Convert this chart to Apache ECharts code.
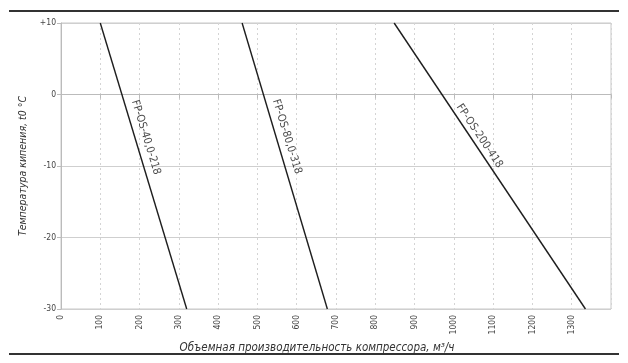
<!DOCTYPE html>
<html><head><meta charset="utf-8">
<script src="https://cdn.jsdelivr.net/npm/echarts@6/dist/echarts.min.js"></script>
<style>html,body{margin:0;padding:0;background:#fff}#c{width:628px;height:363px}</style>
</head><body><div id="c"></div>
<script>
// Data
const seriesNames = ['FP-OS-40,0-218', 'FP-OS-80,0-318', 'FP-OS-200-418'];
const line1 = [[100, 10], [320, -30]];
const line2 = [[461, 10], [678, -30]];
const line3 = [[848, 10], [1335, -30]];
// label anchor points (value coords) and angles
const labelAnchors = [[216, -6.0], [575, -5.9], [1065, -5.8]];
const labelAngles = [-73, -73, -56];
const xTicks = [0,100,200,300,400,500,600,700,800,900,1000,1100,1200,1300];
const yTicks = [10, 0, -10, -20, -30];

const chart = echarts.init(document.getElementById('c'), null, {renderer: 'canvas'});
const font = 'DejaVu Sans Condensed, DejaVu Sans';
const lineSeries = [line1, line2, line3].map((d, i) => ({
  type: 'line', name: seriesNames[i], data: d, symbol: 'none',
  lineStyle: {color: '#1e1e1e', width: 1.4}, z: 5, silent: true
}));
const labelSeries = {
  type: 'scatter', symbolSize: 0, silent: true, z: 6,
  data: labelAnchors.map((p, i) => ({
    value: p,
    label: {show: true, formatter: seriesNames[i], rotate: labelAngles[i],
      position: [0, 0], align: 'center', verticalAlign: 'middle',
      fontFamily: font, fontSize: 11, color: '#1a1a1a'}
  }))
};
chart.setOption({
  animation: false,
  grid: {left: 61, right: 17, top: 23, bottom: 54, show: true, borderColor: '#c8c8c8', borderWidth: 1},
  xAxis: {
    type: 'value', min: 0, max: 1400, interval: 100,
    name: 'Объемная производительность компрессора, м³/ч',
    nameLocation: 'middle', nameGap: 26,
    nameTextStyle: {fontFamily: font, fontStyle: 'italic', fontSize: 11.5, color: '#333', padding: [0, 38, 0, 0]},
    axisLine: {lineStyle: {color: '#bbb'}},
    axisTick: {show: true, length: 4, lineStyle: {color: '#bbb'}},
    axisLabel: {rotate: 90, fontFamily: font, fontSize: 8.5, color: '#444', margin: 6,
      formatter: v => xTicks.includes(v) ? String(v) : ''},
    splitLine: {show: true, lineStyle: {color: '#d4d4d4', type: [2, 3], width: 1}}
  },
  yAxis: {
    type: 'value', min: -30, max: 10, interval: 10,
    name: 'Температура кипения, t0 °С',
    nameLocation: 'middle', nameGap: 30, nameRotate: 90,
    nameTextStyle: {fontFamily: font, fontStyle: 'italic', fontSize: 10.5, color: '#333'},
    axisLine: {show: true, lineStyle: {color: '#bbb'}},
    axisTick: {show: true, length: 4, lineStyle: {color: '#bbb'}},
    axisLabel: {fontFamily: font, fontSize: 8.5, color: '#444', margin: 5,
      formatter: v => yTicks.includes(v) ? (v > 0 ? '+' + v : String(v)) : ''},
    splitLine: {show: true, lineStyle: {color: '#cfcfcf', width: 1}}
  },
  graphic: [
    {type: 'line', shape: {x1: 9, y1: 11, x2: 619, y2: 11}, style: {stroke: '#333', lineWidth: 2}},
    {type: 'line', shape: {x1: 9, y1: 354, x2: 619, y2: 354}, style: {stroke: '#333', lineWidth: 2}}
  ],
  series: [...lineSeries, labelSeries]
});
</script></body></html>
